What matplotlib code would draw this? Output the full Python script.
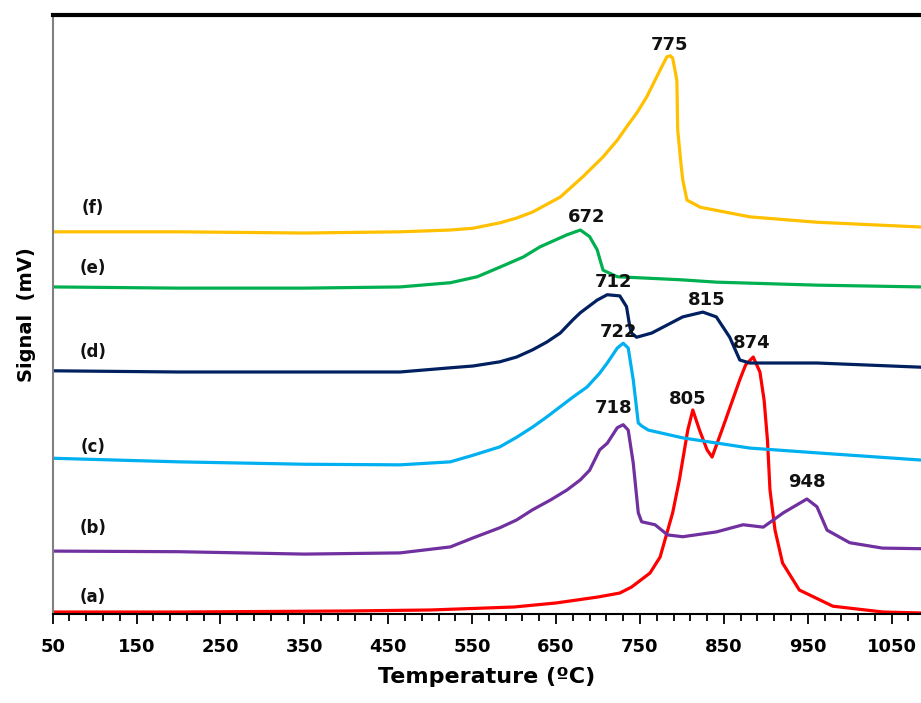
import numpy as np
import matplotlib
matplotlib.use("Agg")
import matplotlib.pyplot as plt
from matplotlib.ticker import MultipleLocator

# curve (a) red
t_a = [50, 199, 400, 500, 600, 650, 700, 726, 740, 762, 774, 789, 797, 807, 813, 821, 830, 836,
       849, 869, 876, 885, 893, 898, 902, 905, 911, 920, 940, 980, 1040, 1085]
s_a = [0.33, 0.33, 0.5, 0.67, 1.17, 1.84, 2.84, 3.5, 4.5, 6.84, 9.5, 16.9, 22.4, 30.7, 34.06, 30.7,
       27.4, 26.2, 31.2, 39.1, 41.6, 42.9, 40.4, 35.7, 29.0, 20.7, 14.0, 8.5, 4.0, 1.3, 0.33, 0.17]

# curve (b) purple
t_b = [50, 200, 350, 464, 524, 551, 583, 603, 622, 643, 663, 679, 690, 702, 711, 723, 730, 736,
       742, 748, 752, 768, 783, 801, 841, 873, 897, 921, 949, 961, 973, 1000, 1039, 1085]
s_b = [10.5, 10.4, 10.0, 10.2, 11.2, 12.7, 14.4, 15.7, 17.4, 19.0, 20.7, 22.4, 24.0, 27.4, 28.5,
       31.1, 31.6, 30.7, 25.2, 16.9, 15.4, 14.9, 13.2, 12.9, 13.7, 14.9, 14.5, 16.9, 19.2, 17.9,
       14.0, 11.9, 11.0, 10.9]

# curve (c) light blue
t_c = [50, 200, 350, 464, 524, 551, 583, 603, 622, 639, 655, 670, 687, 702, 711, 723, 730, 736,
       742, 748, 752, 760, 801, 881, 961, 1085]
s_c = [26.0, 25.4, 25.0, 24.9, 25.4, 26.5, 27.9, 29.5, 31.2, 32.9, 34.6, 36.2, 37.9, 40.2, 41.9,
       44.4, 45.2, 44.4, 39.1, 31.9, 31.4, 30.7, 29.4, 27.7, 26.9, 25.7]

# curve (d) navy
t_d = [50, 200, 350, 464, 524, 551, 583, 603, 622, 639, 655, 670, 679, 699, 711, 726, 734, 738,
       740, 746, 764, 801, 825, 841, 857, 869, 881, 961, 1085]
s_d = [40.6, 40.4, 40.4, 40.4, 41.1, 41.4, 42.1, 42.9, 44.1, 45.4, 46.9, 49.1, 50.3, 52.4, 53.3,
       53.1, 51.3, 47.9, 46.9, 46.2, 46.9, 49.6, 50.4, 49.6, 46.2, 42.4, 41.9, 41.9, 41.2]

# curve (e) green
t_e = [50, 200, 350, 464, 524, 556, 583, 611, 631, 655, 663, 679, 690, 699, 706, 723, 798, 841,
       960, 1085]
s_e = [54.6, 54.4, 54.4, 54.6, 55.3, 56.3, 57.9, 59.6, 61.3, 62.8, 63.3, 64.1, 63.0, 60.8, 57.4,
       56.3, 55.8, 55.4, 54.9, 54.6]

# curve (f) yellow
t_f = [50, 200, 350, 464, 524, 551, 583, 603, 622, 655, 682, 706, 723, 734, 747, 758, 774, 782,
       786, 789, 794, 795, 799, 801, 806, 822, 881, 961, 1085]
s_f = [63.8, 63.8, 63.6, 63.8, 64.1, 64.4, 65.3, 66.1, 67.1, 69.6, 73.0, 76.3, 79.1, 81.3, 83.8,
       86.3, 90.8, 93.0, 93.2, 92.8, 89.1, 80.8, 75.0, 72.5, 69.1, 67.9, 66.3, 65.4, 64.6]

colors = ["#FF0000", "#7030A0", "#00B0F0", "#002060", "#00B050", "#FFC000"]
names = ["(a)", "(b)", "(c)", "(d)", "(e)", "(f)"]
name_y = [2.8, 14.4, 27.9, 43.7, 57.8, 67.8]

peak_labels = ["775", "672", "712", "815", "722", "874", "805", "718", "948"]
peak_t = [785, 687, 718, 830, 724, 883, 807, 718, 949]
peak_s = [95.0, 66.3, 55.4, 52.4, 47.1, 45.2, 35.9, 34.4, 22.0]

xticks = list(range(50, 1051, 100))

fig = plt.figure(figsize=(9.21, 7.03), dpi=100)
ax = fig.add_axes([0.0572, 0.1266, 0.9428, 0.8521])

curves = [(t_a, s_a), (t_b, s_b), (t_c, s_c), (t_d, s_d), (t_e, s_e), (t_f, s_f)]
for (t, s), c in zip(curves, colors):
    ax.plot(t, s, color=c, lw=2.3, solid_joinstyle="round", solid_capstyle="round")

for n, y in zip(names, name_y):
    ax.text(98, y, n, fontsize=12, fontweight="bold", ha="center", va="center", color="#111111")

for lab, t, s in zip(peak_labels, peak_t, peak_s):
    ax.text(t, s, lab, fontsize=13, fontweight="bold", ha="center", va="center", color="#111111")

ax.set_xlim(50, 1085)
ax.set_ylim(0, 100)
ax.set_xticks(xticks)
ax.xaxis.set_minor_locator(MultipleLocator(20, offset=10))
ax.set_yticks([])
ax.tick_params(axis="x", which="major", length=7, width=1.3, direction="out", pad=10,
               labelsize=13)
ax.tick_params(axis="x", which="minor", length=5, width=1.3, direction="out")
for lbl in ax.get_xticklabels():
    lbl.set_fontweight("bold")

ax.spines["right"].set_visible(False)
ax.spines["top"].set_linewidth(3)
ax.spines["top"].set_color("black")
ax.spines["left"].set_color("#808080")
ax.spines["left"].set_linewidth(1.5)
ax.spines["bottom"].set_linewidth(1.5)

ax.set_xlabel("Temperature (\u00baC)", fontsize=16, fontweight="bold", labelpad=8)
ax.set_ylabel("Signal  (mV)", fontsize=14, fontweight="bold", labelpad=12)

fig.savefig("out.png", dpi=100)
